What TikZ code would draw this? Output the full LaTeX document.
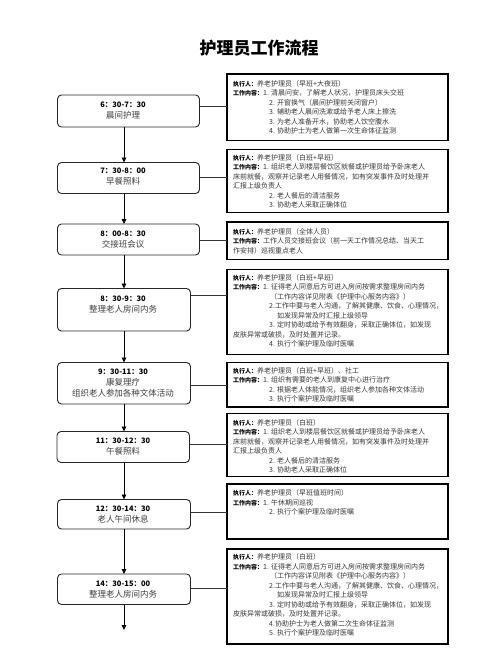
\documentclass[tikz,border=0pt]{standalone}
\usepackage{fontspec}
\setmainfont{Noto Sans CJK SC}
\usetikzlibrary{arrows.meta}
\newcommand{\zxr}{{\color{black}\bfseries\fontsize{6}{9.5}\selectfont 执行人：}}
\newcommand{\gznr}{{\color{black}\bfseries\fontsize{6}{9.5}\selectfont 工作内容：}}
\newcommand{\hsk}[1]{\hspace*{#1pt}}
\begin{document}
\begin{tikzpicture}[x=1pt,y=-1pt,
  lbox/.style={draw=black!85, line width=0.9pt, rounded corners=4pt, inner sep=0, outer sep=0},
  rbox/.style={draw=black, line width=1.3pt, inner sep=0, outer sep=0},
  ltext/.style={align=center, inner sep=0, font=\fontsize{8.5}{11}\selectfont, text=black!75},
  rtext/.style={align=left, inner sep=0, anchor=north west, font=\fontsize{7}{9.5}\selectfont, text=black!78},
  flow/.style={draw=black, line width=0.9pt, -{Triangle[length=5pt,width=4.5pt]}},
  conn/.style={draw=black!80, line width=0.8pt}]
\useasboundingbox (0,0) rectangle (502,649);
\fill[white] (0,0) rectangle (502,649);

\node[font=\bfseries\fontsize{17}{20}\selectfont] (title) at (259,48) {护理员工作流程};

% left boxes
\node[lbox, minimum width=142pt, minimum height=32pt] (l1) at (128.5,111) {};
\node[lbox, minimum width=142pt, minimum height=31pt] (l2) at (128.5,178) {};
\node[lbox, minimum width=142pt, minimum height=31pt] (l3) at (128.5,239.5) {};
\node[lbox, minimum width=133pt, minimum height=42.5pt] (l4) at (124,309.75) {};
\node[lbox, minimum width=133pt, minimum height=41.5pt] (l5) at (124,383.25) {};
\node[lbox, minimum width=132.5pt, minimum height=31pt] (l6) at (123.25,447) {};
\node[lbox, minimum width=133pt, minimum height=29.5pt] (l7) at (124,514.25) {};
\node[lbox, minimum width=133pt, minimum height=30.5pt] (l8) at (124,589.25) {};

\node[ltext] (lt1) at (123,110.5) {{\color{black}\bfseries\fontsize{7.5}{11}\selectfont 6：30-7：30}\\晨间护理};
\node[ltext] (lt2) at (123,176.5) {{\color{black}\bfseries\fontsize{7.5}{11}\selectfont 7：30-8：00}\\早餐照料};
\node[ltext] (lt3) at (123,239.5) {{\color{black}\bfseries\fontsize{7.5}{11}\selectfont 8：00-8：30}\\交接班会议};
\node[ltext] (lt4) at (123,304.5) {{\color{black}\bfseries\fontsize{7.5}{11}\selectfont 8：30-9：30}\\整理老人房间内务};
\node[ltext] (lt5) at (123,383.5) {{\color{black}\bfseries\fontsize{7.5}{11}\selectfont 9：30-11：30}\\康复理疗\\组织老人参加各种文体活动};
\node[ltext] (lt6) at (123,447) {{\color{black}\bfseries\fontsize{7.5}{11}\selectfont 11：30-12：30}\\午餐照料};
\node[ltext] (lt7) at (123,515) {{\color{black}\bfseries\fontsize{7.5}{11}\selectfont 12：30-14：30}\\老人午间休息};
\node[ltext] (lt8) at (123,589.7) {{\color{black}\bfseries\fontsize{7.5}{11}\selectfont 14：30-15：00}\\整理老人房间内务};

% right boxes
\node[rbox, minimum width=221pt, minimum height=66.5pt] (r1) at (337.5,107.25) {};
\node[rbox, minimum width=221pt, minimum height=63pt] (r2) at (337.5,181) {};
\node[rbox, minimum width=221pt, minimum height=37.5pt] (r3) at (337.5,240.75) {};
\node[rbox, minimum width=221pt, minimum height=85pt] (r4) at (337.5,312) {};
\node[rbox, minimum width=221pt, minimum height=44.5pt] (r5) at (337.5,384.75) {};
\node[rbox, minimum width=221pt, minimum height=63pt] (r6) at (337.5,445) {};
\node[rbox, minimum width=221pt, minimum height=55pt] (r7) at (337.5,511.5) {};
\node[rbox, minimum width=221pt, minimum height=95pt] (r8) at (337.5,596.5) {};

\node[rtext] (t1) at ([shift={(6,6)}]r1.north west) {\zxr 养老护理员（早班+大夜班）\\
\gznr 1. 清晨问安，了解老人状况，护理员床头交班\\
\hsk{36}2. 开窗换气（晨间护理前关闭窗户）\\
\hsk{36}3. 辅助老人晨间洗漱或给予老人床上擦洗\\
\hsk{36}3. 为老人准备开水，协助老人饮空腹水\\
\hsk{36}4. 协助护士为老人做第一次生命体征监测};

\node[rtext] (t2) at ([shift={(6,4.5)}]r2.north west) {\zxr 养老护理员（白班+早班）\\
\gznr 1. 组织老人到楼层餐饮区就餐或护理员给予卧床老人\\
床前就餐，观察并记录老人用餐情况，如有突发事件及时处理并\\
汇报上级负责人\\
\hsk{36}2. 老人餐后的清洁服务\\
\hsk{36}3. 协助老人采取正确体位};

\node[rtext] (t3) at ([shift={(6,6)}]r3.north west) {\zxr 养老护理员（全体人员）\\
\gznr 工作人员交接班会议（前一天工作情况总结、当天工\\
作安排）巡视重点老人};

\node[rtext] (t4) at ([shift={(6,4.5)}]r4.north west) {\zxr 养老护理员（白班+早班）\\
\gznr 1. 征得老人同意后方可进入房间按需求整理房间内务\\
\hsk{37}（工作内容详见附表《护理中心服务内容》）\\
\hsk{36}2.工作中要与老人沟通，了解其健康、饮食、心理情况，\\
\hsk{44}如发现异常及时汇报上级领导\\
\hsk{36}3. 定时协助或给予有效翻身，采取正确体位，如发现\\
皮肤异常或破损，及时处置并记录。\\
\hsk{36}4. 执行个案护理及临时医嘱};

\node[rtext] (t5) at ([shift={(6,4.5)}]r5.north west) {\zxr 养老护理员（白班+早班）、社工\\
\gznr 1. 组织有需要的老人到康复中心进行治疗\\
\hsk{36}2. 根据老人体能情况，组织老人参加各种文体活动\\
\hsk{36}3. 执行个案护理及临时医嘱};

\node[rtext] (t6) at ([shift={(6,5.5)}]r6.north west) {\zxr 养老护理员（白班）\\
\gznr 1. 组织老人到楼层餐饮区就餐或护理员给予卧床老人\\
床前就餐，观察并记录老人用餐情况，如有突发事件及时处理并\\
汇报上级负责人\\
\hsk{36}2. 老人餐后的清洁服务\\
\hsk{36}3. 协助老人采取正确体位};

\node[rtext] (t7) at ([shift={(6,5.5)}]r7.north west) {\zxr 养老护理员（早班值班时间）\\
\gznr 1. 午休期间巡视\\
\hsk{36}2. 执行个案护理及临时医嘱};

\node[rtext] (t8) at ([shift={(6,4.5)}]r8.north west) {\zxr 养老护理员（白班）\\
\gznr 1. 征得老人同意后方可进入房间按需求整理房间内务\\
\hsk{37}（工作内容详见附表《护理中心服务内容》）\\
\hsk{36}2.工作中要与老人沟通，了解其健康、饮食、心理情况，\\
\hsk{44}如发现异常及时汇报上级领导\\
\hsk{36}3. 定时协助或给予有效翻身，采取正确体位，如发现\\
皮肤异常或破损，及时处置并记录。\\
\hsk{36}4.协助护士为老人做第二次生命体征监测\\
\hsk{36}5. 执行个案护理及临时医嘱};

% flow arrows
\coordinate (ax) at (124,0);
\coordinate (end) at (124,630);
\draw[flow] (l1.south -| ax) -- (l2.north -| ax);
\draw[flow] (l2.south -| ax) -- (l3.north -| ax);
\draw[flow] (l3.south -| ax) -- (l4.north -| ax);
\draw[flow] (l4.south -| ax) -- (l5.north -| ax);
\draw[flow] (l5.south -| ax) -- (l6.north -| ax);
\draw[flow] (l6.south -| ax) -- (l7.north -| ax);
\draw[flow] (l7.south -| ax) -- (l8.north -| ax);
\draw[flow] (l8.south -| ax) -- (end);

% connectors
\draw[conn] (l1.east |- 0,106) -- (r1.west |- 0,106);
\draw[conn] (l2.east |- 0,177) -- (r2.west |- 0,177);
\draw[conn] (l3.east |- 0,240) -- (r3.west |- 0,240);
\draw[conn] (l4.east |- 0,295) -- (r4.west |- 0,295);
\draw[conn] (l5.east |- 0,385) -- (r5.west |- 0,385);
\draw[conn] (l6.east |- 0,444) -- (r6.west |- 0,444);
\draw[conn] (l7.east |- 0,512.5) -- (r7.west |- 0,512.5);
\draw[conn] (l8.east |- 0,588) -- (r8.west |- 0,588);
\end{tikzpicture}
\end{document}
